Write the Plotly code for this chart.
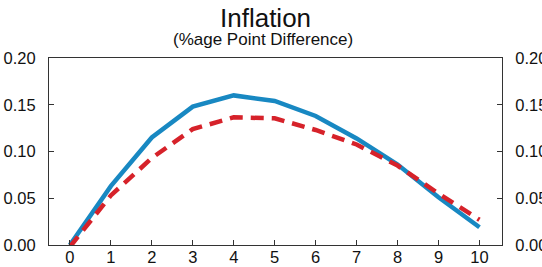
import plotly.graph_objects as go

quarters = [0, 1, 2, 3, 4, 5, 6, 7, 8, 9, 10]
solid_series = [0.000, 0.063, 0.115, 0.148, 0.160, 0.154, 0.138, 0.114, 0.086, 0.051, 0.019]
dashed_series = [-0.002, 0.053, 0.093, 0.124, 0.1365, 0.1355, 0.123, 0.1075, 0.085, 0.055, 0.027]
y_ticks = [0.00, 0.05, 0.10, 0.15, 0.20]
y_tick_labels = ["0.00", "0.05", "0.10", "0.15", "0.20"]
title_text = "Inflation"
subtitle_text = "(%age Point Difference)"

font_family = "Liberation Sans, Arial, Helvetica, sans-serif"

fig = go.Figure()
fig.add_trace(go.Scatter(x=quarters, y=solid_series, mode="lines",
                         line=dict(color="#1888c2", width=4.5), showlegend=False))
fig.add_trace(go.Scatter(x=quarters, y=dashed_series, mode="lines",
                         line=dict(color="#d6222a", width=4.5, dash="13px,8px"), showlegend=False))
# invisible trace for right axis
fig.add_trace(go.Scatter(x=[quarters[0]], y=[y_ticks[0]], yaxis="y2", mode="markers",
                         marker=dict(opacity=0), showlegend=False, hoverinfo="skip"))

L, R, T, B = 49, 40, 58, 22
W, H = 542, 267
plot_h = H - T - B
plot_w = W - L - R

def px_to_paper_y(py):
    return (H - B - py) / plot_h

def px_to_paper_x(px):
    return (px - L) / plot_w

axis_common = dict(ticks="inside", ticklen=5, tickcolor="#333", showline=True,
                   linecolor="#333", linewidth=1, showgrid=False, zeroline=False,
                   automargin=False, tickfont=dict(size=16.5))

fig.update_layout(
    width=W, height=H,
    margin=dict(l=L, r=R, t=T, b=B, autoexpand=False),
    paper_bgcolor="white", plot_bgcolor="white",
    font=dict(family=font_family, size=16, color="#111111"),
    xaxis=dict(range=[-0.51, 10.55], tickvals=quarters, mirror=True,
               ticklabelstandoff=-3, **axis_common),
    yaxis=dict(range=[0, 0.2], tickvals=y_ticks, ticktext=y_tick_labels,
               ticklabelstandoff=9, **axis_common),
    yaxis2=dict(range=[0, 0.2], tickvals=y_ticks, ticktext=y_tick_labels,
                overlaying="y", side="right", ticklabelstandoff=9, **axis_common),
    annotations=[
        dict(text=title_text, x=px_to_paper_x(265), y=px_to_paper_y(18),
             xref="paper", yref="paper", showarrow=False,
             font=dict(size=26, family=font_family, color="#111111"), yanchor="middle"),
        dict(text=subtitle_text, x=px_to_paper_x(263), y=px_to_paper_y(39),
             xref="paper", yref="paper", showarrow=False,
             font=dict(size=17, family=font_family, color="#111111"), yanchor="middle"),
    ],
)

fig.write_html("out.html", config={"displayModeBar": False},
               post_script="document.body.style.margin='0';document.body.style.overflow='hidden';")
